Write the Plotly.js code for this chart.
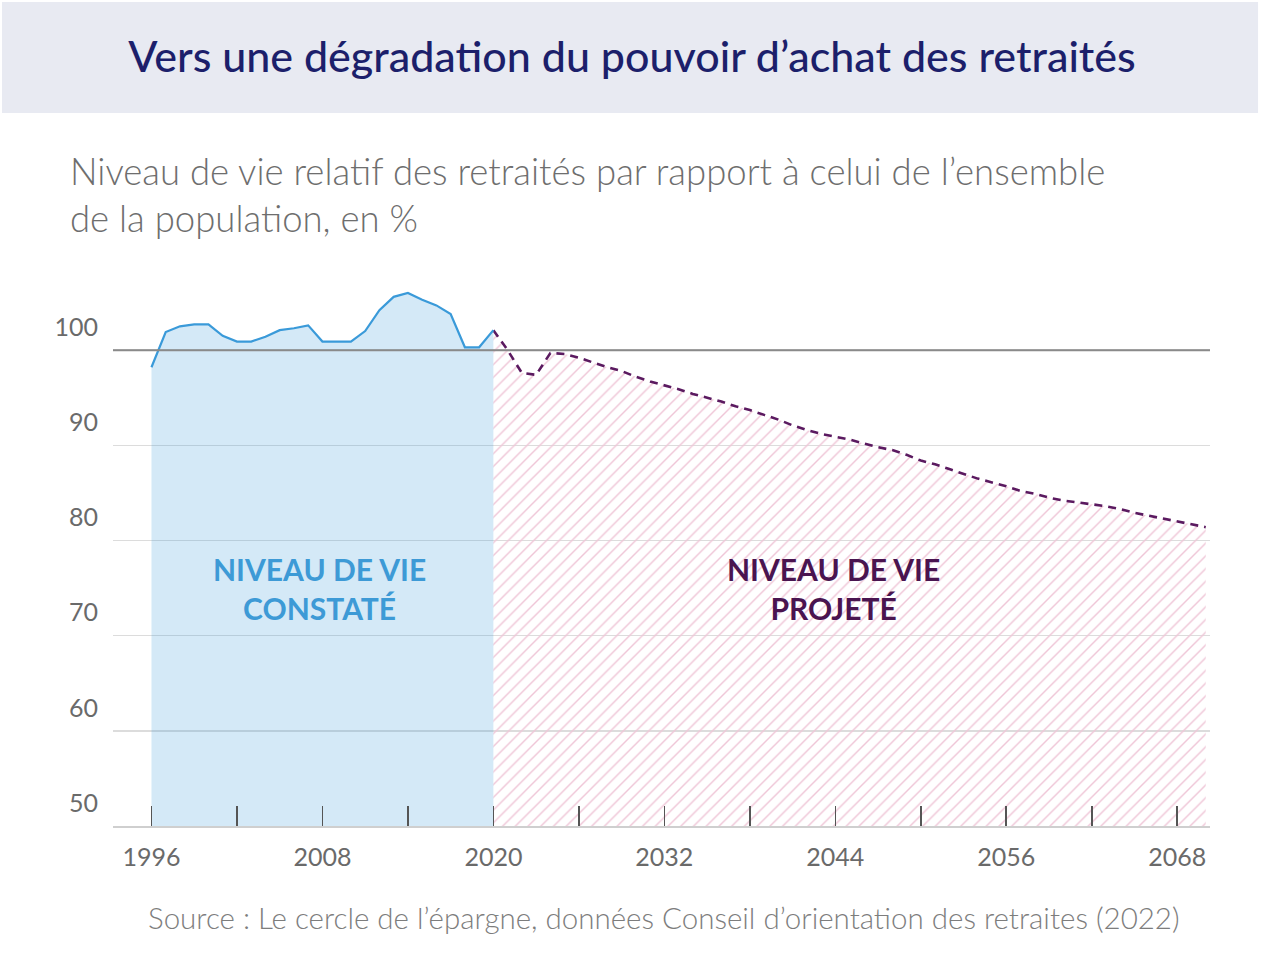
<!DOCTYPE html>
<html>
<head>
<meta charset="utf-8">
<script src="https://cdn.plot.ly/plotly-3.0.1.min.js"></script>
<style>
  html, body { margin: 0; padding: 0; background: #ffffff; }
  #chart { width: 1264px; height: 970px; }
</style>
</head>
<body>
<div id="chart"></div>
<script>
// ---- Data ----
const observedYears = [1996, 1997, 1998, 1999, 2000, 2001, 2002, 2003, 2004, 2005, 2006, 2007, 2008, 2009, 2010, 2011, 2012, 2013, 2014, 2015, 2016, 2017, 2018, 2019, 2020];
const observedValues = [98.2, 101.9, 102.5, 102.7, 102.7, 101.5, 100.9, 100.9, 101.4, 102.1, 102.3, 102.6, 100.9, 100.9, 100.9, 102.0, 104.2, 105.6, 106.0, 105.3, 104.7, 103.8, 100.3, 100.3, 102.1];

const projectedYears = [2020, 2021, 2022, 2023, 2024, 2025, 2026, 2027, 2028, 2029, 2030, 2031, 2032, 2033, 2034, 2035, 2036, 2037, 2038, 2039, 2040, 2041, 2042, 2043, 2044, 2045, 2046, 2047, 2048, 2049, 2050, 2051, 2052, 2053, 2054, 2055, 2056, 2057, 2058, 2059, 2060, 2061, 2062, 2063, 2064, 2065, 2066, 2067, 2068, 2069, 2070];
const projectedValues = [102.1, 100.0, 97.6, 97.4, 99.7, 99.6, 99.2, 98.7, 98.2, 97.8, 97.2, 96.7, 96.3, 95.9, 95.4, 95.0, 94.6, 94.1, 93.7, 93.2, 92.7, 92.1, 91.6, 91.2, 90.9, 90.6, 90.2, 89.8, 89.5, 89.0, 88.4, 88.0, 87.5, 87.0, 86.5, 86.1, 85.7, 85.2, 84.9, 84.5, 84.2, 84.0, 83.8, 83.6, 83.3, 82.9, 82.6, 82.3, 82.0, 81.7, 81.4];

const xTickYears = [1996, 2002, 2008, 2014, 2020, 2026, 2032, 2038, 2044, 2050, 2056, 2062, 2068];
const xTickLabels = ["1996", "", "2008", "", "2020", "", "2032", "", "2044", "", "2056", "", "2068"];
const yTickValues = [50, 60, 70, 80, 90, 100];
const yTickLabels = ["50", "60", "70", "80", "90", "100"];
const referenceLevel = 100;

const titleText = "Vers une dégradation du pouvoir d’achat des retraités";
const subtitleText = "Niveau de vie relatif des retraités par rapport à celui de l’ensemble<br>de la population, en %";
const sourceText = "Source : Le cercle de l’épargne, données Conseil d’orientation des retraites (2022)";
const observedLabel = "NIVEAU DE VIE<br>CONSTATÉ";
const projectedLabel = "NIVEAU DE VIE<br>PROJETÉ";

// ---- Style ----
const FONT = "Lato, 'Open Sans', sans-serif";
const BLUE = "#3a9ad9";
const PURPLE = "#5b1a60";

const traces = [
  {
    x: projectedYears, y: projectedValues,
    type: "scatter", mode: "lines",
    fill: "tozeroy",
    fillcolor: "rgba(255,255,255,0)",
    fillpattern: { shape: "/", fgcolor: "#efc6d7", bgcolor: "rgba(255,255,255,0)", size: 9, solidity: 0.16 },
    line: { color: PURPLE, width: 2.6, dash: "8px,6px" },
    hoverinfo: "skip", showlegend: false
  },
  {
    x: observedYears, y: observedValues,
    type: "scatter", mode: "lines",
    fill: "tozeroy",
    fillcolor: "rgba(58,154,217,0.22)",
    line: { color: BLUE, width: 2.2 },
    hoverinfo: "skip", showlegend: false
  }
];

const layout = {
  width: 1264, height: 970,
  margin: { l: 113, r: 54, t: 274, b: 144 },
  paper_bgcolor: "#ffffff",
  plot_bgcolor: "#ffffff",
  font: { family: FONT, color: "#6f6f6f" },
  title: {
    text: titleText,
    x: 0.5, xref: "container", xanchor: "center",
    y: 1 - 57 / 970, yref: "container", yanchor: "middle",
    font: { family: FONT, size: 43, color: "#1c1f6b", weight: 500 }
  },
  xaxis: {
    range: [1993.3, 2070.3],
    tickmode: "array", tickvals: xTickYears, ticktext: xTickLabels,
    ticks: "inside", ticklen: 20, tickwidth: 1.6, tickcolor: "#555555",
    showgrid: false, zeroline: false,
    showline: true, linecolor: "#cfcfcf", linewidth: 2,
    tickfont: { family: FONT, size: 25, color: "#6a6a6a" },
    ticklabelstandoff: 8,
    fixedrange: true
  },
  yaxis: {
    range: [50, 108],
    tickmode: "array", tickvals: yTickValues, ticktext: yTickLabels,
    showgrid: true, gridcolor: "#dcdcdc", gridwidth: 1.6,
    zeroline: false, showline: false, ticks: "",
    tickfont: { family: FONT, size: 25, color: "#6a6a6a" },
    ticklabelshift: -23, ticklabelstandoff: 14,
    fixedrange: true
  },
  shapes: [
    { type: "rect", xref: "paper", yref: "paper", x0: -0.1012, x1: 1.0438, y0: 1.2917, y1: 1.4928,
      fillcolor: "#e8eaf2", line: { width: 0 }, layer: "below" },
    { type: "line", xref: "paper", yref: "y", x0: 0, x1: 1, y0: referenceLevel, y1: referenceLevel,
      line: { color: "#8a8a8a", width: 2 }, layer: "above" }
  ],
  annotations: [
    { text: subtitleText, xref: "paper", yref: "paper", x: -0.041, y: 1.1435,
      xanchor: "left", yanchor: "middle", align: "left", showarrow: false,
      font: { family: FONT, size: 36.5, color: "#6e6e6e", weight: 300 } },
    { text: sourceText, xref: "paper", yref: "paper", x: 0.5023, y: -0.1649,
      xanchor: "center", yanchor: "middle", showarrow: false,
      font: { family: FONT, size: 29.5, color: "#7d7d7d", weight: 300 } },
    { text: observedLabel, xref: "x", yref: "y", x: 2007.8, y: 75.0,
      xanchor: "center", yanchor: "middle", align: "center", showarrow: false,
      font: { family: FONT, size: 30, color: "#3d9ad6", weight: 700 } },
    { text: projectedLabel, xref: "x", yref: "y", x: 2043.9, y: 75.0,
      xanchor: "center", yanchor: "middle", align: "center", showarrow: false,
      font: { family: FONT, size: 30, color: "#4a1450", weight: 700 } }
  ]
};

Plotly.newPlot("chart", traces, layout, { staticPlot: true, displayModeBar: false });
</script>
</body>
</html>
